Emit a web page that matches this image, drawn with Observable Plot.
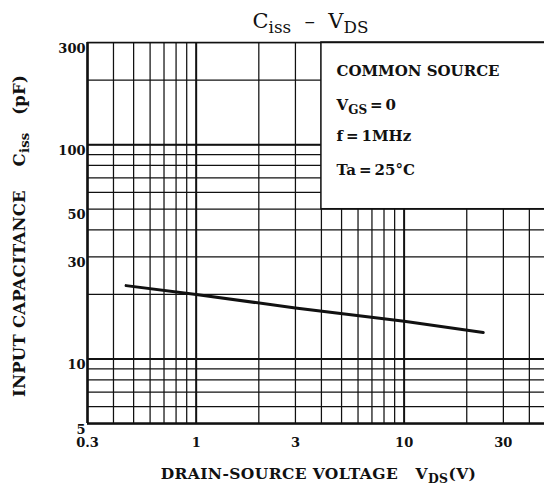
<!DOCTYPE html>
<html>
<head>
<meta charset="utf-8">
<script src="https://cdn.jsdelivr.net/npm/d3@7"></script>
<script src="https://cdn.jsdelivr.net/npm/@observablehq/plot@0.6"></script>
<style>
  html, body { margin: 0; padding: 0; background: #fff; }
  svg { display: block; }
</style>
</head>
<body>
<div id="chart"></div>
<script>
// ---- data ----
const vds  = [0.46, 1, 3, 10, 24];          // V
const ciss = [22, 20, 17.3, 15, 13.3];      // pF

const xGrid = [0.3, 0.4, 0.5, 0.6, 0.7, 0.8, 0.9, 1, 2, 3, 4, 5, 6, 7, 8, 9, 10, 20, 30, 40];
const yGrid = [5, 6, 7, 8, 9, 10, 20, 30, 40, 50, 60, 70, 80, 90, 100, 200, 300];
const xDecades = [1, 10];
const yDecades = [10, 100];
const xTickLabels = [0.3, 1, 3, 10, 30];
const yTickLabels = [5, 10, 30, 50, 100, 300];

const NB = "\u00a0";
const titleText = "C_{iss}" + NB + NB + "\u2013" + NB + NB + "V_{DS}";
const xLabel = "DRAIN-SOURCE VOLTAGE" + NB.repeat(3) + "V_{DS}(V)";
const yLabel = "INPUT CAPACITANCE" + NB.repeat(4) + "C_{iss}" + NB.repeat(3) + "(pF)";
const legendLines = ["COMMON SOURCE", "V_{GS}\u2009=\u20090", "f\u2009=\u20091MHz", "Ta\u2009=\u200925\u00b0C"];

const rows = vds.map((v, i) => ({vds: v, ciss: ciss[i]}));
const FONT = "DejaVu Serif";
const INK = "#111";
const W = "bold";

const marks = [
  // grid
  Plot.ruleX(xGrid, {x: d => d, y1: 5, y2: 300, stroke: INK, strokeWidth: 1.25}),
  Plot.ruleY(yGrid, {y: d => d, x1: 0.3, x2: 50, stroke: INK, strokeWidth: 1.25}),
  Plot.ruleX(xDecades, {x: d => d, y1: 5, y2: 300, stroke: INK, strokeWidth: 1.9}),
  Plot.ruleY(yDecades, {y: d => d, x1: 0.3, x2: 50, stroke: INK, strokeWidth: 1.9}),
  // condition box (hides the grid behind it)
  Plot.rect([0], {x1: 4, x2: 50, y1: 50, y2: 300, fill: "white", stroke: INK, strokeWidth: 1.5}),
  // frame edges
  Plot.ruleX([0.3], {x: d => d, y1: 5, y2: 300, stroke: INK, strokeWidth: 2.6}),
  Plot.ruleY([5], {y: d => d, x1: 0.3, x2: 50, stroke: INK, strokeWidth: 2.6}),
  Plot.ruleY([300], {y: d => d, x1: 0.3, x2: 50, stroke: INK, strokeWidth: 1.6}),
  // curve
  Plot.line(rows, {x: "vds", y: "ciss", stroke: INK, strokeWidth: 3}),
  // tick labels
  Plot.text(xTickLabels, {x: d => d, frameAnchor: "bottom", lineAnchor: "middle", dy: 19, text: d => String(d),
    fontFamily: FONT, fontSize: 13, fontWeight: W, fill: INK}),
  Plot.text(yTickLabels, {y: d => d, frameAnchor: "left", lineAnchor: "middle", textAnchor: "end", dx: -2, dy: 6,
    text: d => String(d), fontFamily: FONT, fontSize: 13, fontWeight: W, fill: INK}),
  // title
  Plot.text([titleText], {frameAnchor: "top", lineAnchor: "middle", dx: -8, dy: -21, text: d => d,
    fontFamily: FONT, fontSize: 21, fill: INK}),
  // axis labels
  Plot.text([xLabel], {frameAnchor: "bottom", lineAnchor: "middle", dy: 51, text: d => d,
    fontFamily: FONT, fontSize: 15.5, fontWeight: W, fill: INK}),
  Plot.text([yLabel], {frameAnchor: "left", lineAnchor: "middle", textAnchor: "middle", dx: -68, dy: 3, rotate: -90,
    text: d => d, fontFamily: FONT, fontSize: 16.5, fontWeight: W, fill: INK}),
  // conditions
  ...legendLines.map((t, i) => Plot.text([t], {frameAnchor: "top-left", lineAnchor: "middle", dx: 249, dy: [29, 63, 94, 128][i],
    textAnchor: "start", text: d => d, fontFamily: FONT, fontSize: 15, fontWeight: W, fill: INK}))
];

const chart = Plot.plot({
  width: 544,
  height: 490,
  marginLeft: 87,
  marginTop: 42,
  marginBottom: 67,
  marginRight: -5,
  style: {background: "white", color: INK, fontFamily: FONT},
  x: {type: "log", domain: [0.3, 50], range: [87, 549], axis: null},
  y: {type: "log", domain: [5, 300], range: [423, 42], axis: null},
  marks
});

// letter spacing for the two axis titles
chart.querySelectorAll("text").forEach(t => {
  const s = t.textContent;
  if (s.startsWith("INPUT")) t.setAttribute("letter-spacing", "0.2");
  if (s.startsWith("DRAIN")) t.setAttribute("letter-spacing", "0.4");
});

// turn "_{...}" markup into subscript tspans
chart.querySelectorAll("text").forEach(t => {
  const s = t.textContent;
  if (!s.includes("_{")) return;
  const parts = s.split(/_\{([^}]*)\}/);
  while (t.firstChild) t.removeChild(t.firstChild);
  const NS = "http://www.w3.org/2000/svg";
  const k = 0.8;
  let shifted = false;
  parts.forEach((p, i) => {
    if (!p) return;
    const ts = document.createElementNS(NS, "tspan");
    ts.textContent = p;
    if (i % 2 === 1) {
      ts.setAttribute("font-size", k + "em");
      ts.setAttribute("dy", "0.3em");
      shifted = true;
    } else if (shifted) {
      ts.setAttribute("dy", (-0.3 * k) + "em");
      shifted = false;
    }
    t.appendChild(ts);
  });
});

document.getElementById("chart").appendChild(chart);
</script>
</body>
</html>
